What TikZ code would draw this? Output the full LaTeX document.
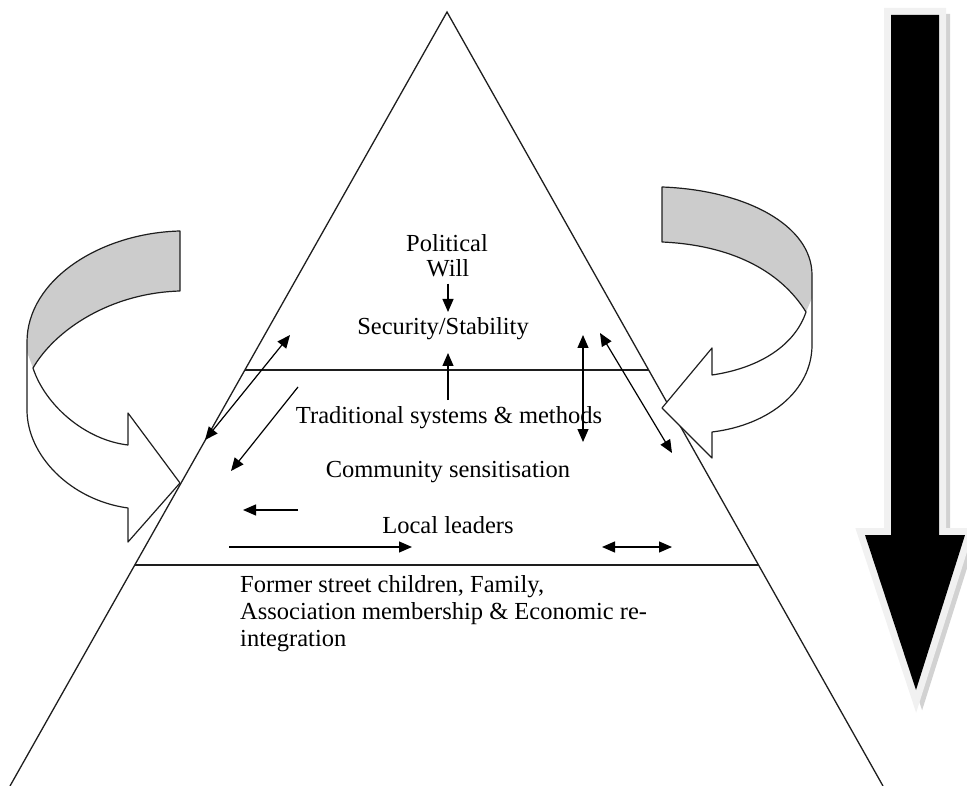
\documentclass[tikz,border=0pt]{standalone}
\usepackage{fontspec}
\setmainfont{Liberation Serif}
\usetikzlibrary{arrows.meta,calc}
\definecolor{bandgray}{HTML}{CCCCCC}
\definecolor{glowgray}{HTML}{F1F1F1}
\definecolor{shadowgray}{HTML}{D2D2D2}
\definecolor{ink}{HTML}{1E1E1E}
\begin{document}
\begin{tikzpicture}[x=1pt,y=-1pt,
  edge/.style={draw=ink,line width=1.3pt},
  conn/.style={line width=1.2pt,-{Triangle[length=13pt,width=11pt]}},
  biconn/.style={line width=1.2pt,{Triangle[length=13pt,width=11pt]}-{Triangle[length=13pt,width=11pt]}},
  txt/.style={inner sep=0pt,anchor=base,font=\fontsize{24.5}{27}\selectfont},
  ribbon/.style={draw=ink,line width=1.2pt,line join=round},
]
\useasboundingbox (0,0) rectangle (967,786);

% pyramid
\coordinate (apex) at (447,12);
\coordinate (bl) at (10,786);
\coordinate (br) at (883,786);
\draw[edge] (bl) -- (apex) -- (br);
\draw[edge] ($(apex)!0.4625!(bl)$) -- ($(apex)!0.4625!(br)$);
\draw[edge] ($(apex)!0.7145!(bl)$) -- ($(apex)!0.7145!(br)$);

% levels
\node[txt] (pol) at (447,252) {Political};
\node[txt] (will) at (448,277) {Will};
\node[txt] (sec) at (443,335) {Security/Stability};
\node[txt] (trad) at (449,423) {Traditional systems \& methods};
\node[txt] (comm) at (448,477) {Community sensitisation};
\node[txt] (local) at (448,533) {Local leaders};
\node[txt,anchor=base west] (base1) at (240,592) {Former street children, Family,};
\node[txt,anchor=base west] (base2) at (240,619) {Association membership \& Economic re-};
\node[txt,anchor=base west] (base3) at (240,646) {integration};

% flows between levels
\coordinate (wA) at ($(will.south)+(0,6)$);
\coordinate (wB) at (wA |- 0,312);
\draw[conn] (wA) -- (wB);
\coordinate (upA) at (448,400);
\coordinate (upB) at (448,353);
\draw[conn] (upA) -- (upB);

\coordinate (la1) at (290,335);
\coordinate (la2) at (205,440);
\draw[biconn] (la1) -- (la2);
\coordinate (lb1) at (298,387);
\coordinate (lb2) at (231,471);
\draw[conn] (lb1) -- (lb2);
\coordinate (lc1) at (298,510);
\coordinate (lc2) at (243,510);
\draw[conn] (lc1) -- (lc2);
\coordinate (ld1) at (229,547);
\coordinate (ld2) at (412,547);
\draw[conn] (ld1) -- (ld2);

\coordinate (ra1) at (583,335);
\coordinate (ra2) at (583,442);
\draw[biconn] (ra1) -- (ra2);
\coordinate (rb1) at (600,333);
\coordinate (rb2) at (672,453);
\draw[biconn] (rb1) -- (rb2);
\coordinate (rc1) at (602,547);
\coordinate (rc2) at (672,547);
\draw[biconn] (rc1) -- (rc2);

% left curved ribbon arrow
\fill[white] (180,231) .. controls (100,233) and (27,280) .. (27,342) -- (27,410)
  .. controls (27,455) and (70,500) .. (128,508) -- (128,542) -- (180,483) -- (128,413) -- (128,445)
  .. controls (85,440) and (45,405) .. (33,368)
  .. controls (55,330) and (110,293) .. (180,291) -- cycle;
\fill[bandgray] (180,231) .. controls (100,233) and (27,280) .. (27,342) -- (27,352) -- (33,368)
  .. controls (55,330) and (110,293) .. (180,291) -- cycle;
\draw[ribbon] (180,231) .. controls (100,233) and (27,280) .. (27,342) -- (27,410)
  .. controls (27,455) and (70,500) .. (128,508) -- (128,542) -- (180,483) -- (128,413) -- (128,445)
  .. controls (85,440) and (45,405) .. (33,368)
  .. controls (55,330) and (110,293) .. (180,291) -- cycle;

% right curved ribbon arrow
\fill[white] (662,187) .. controls (745,190) and (812,225) .. (812,275) -- (812,345)
  .. controls (812,390) and (770,425) .. (712,432) -- (712,458) -- (662,408) -- (712,348) -- (712,375)
  .. controls (760,368) and (795,345) .. (806,312)
  .. controls (780,270) and (730,245) .. (662,242) -- cycle;
\fill[bandgray] (662,187) .. controls (745,190) and (812,225) .. (812,275) -- (812,298) -- (806,312)
  .. controls (780,270) and (730,245) .. (662,242) -- cycle;
\draw[ribbon] (662,187) .. controls (745,190) and (812,225) .. (812,275) -- (812,345)
  .. controls (812,390) and (770,425) .. (712,432) -- (712,458) -- (662,408) -- (712,348) -- (712,375)
  .. controls (760,368) and (795,345) .. (806,312)
  .. controls (780,270) and (730,245) .. (662,242) -- cycle;

% large downward arrow with shadow and glow
\def\downarrowpath{(891,15) -- (939,15) -- (939,535) -- (965,535) -- (916,690) -- (865,535) -- (891,535) -- cycle}
\filldraw[shadowgray,line width=10pt,line join=miter,shift={(6,4)}] \downarrowpath;
\filldraw[glowgray,line width=14pt,line join=miter] \downarrowpath;
\fill[black] \downarrowpath;
\end{tikzpicture}
\end{document}
